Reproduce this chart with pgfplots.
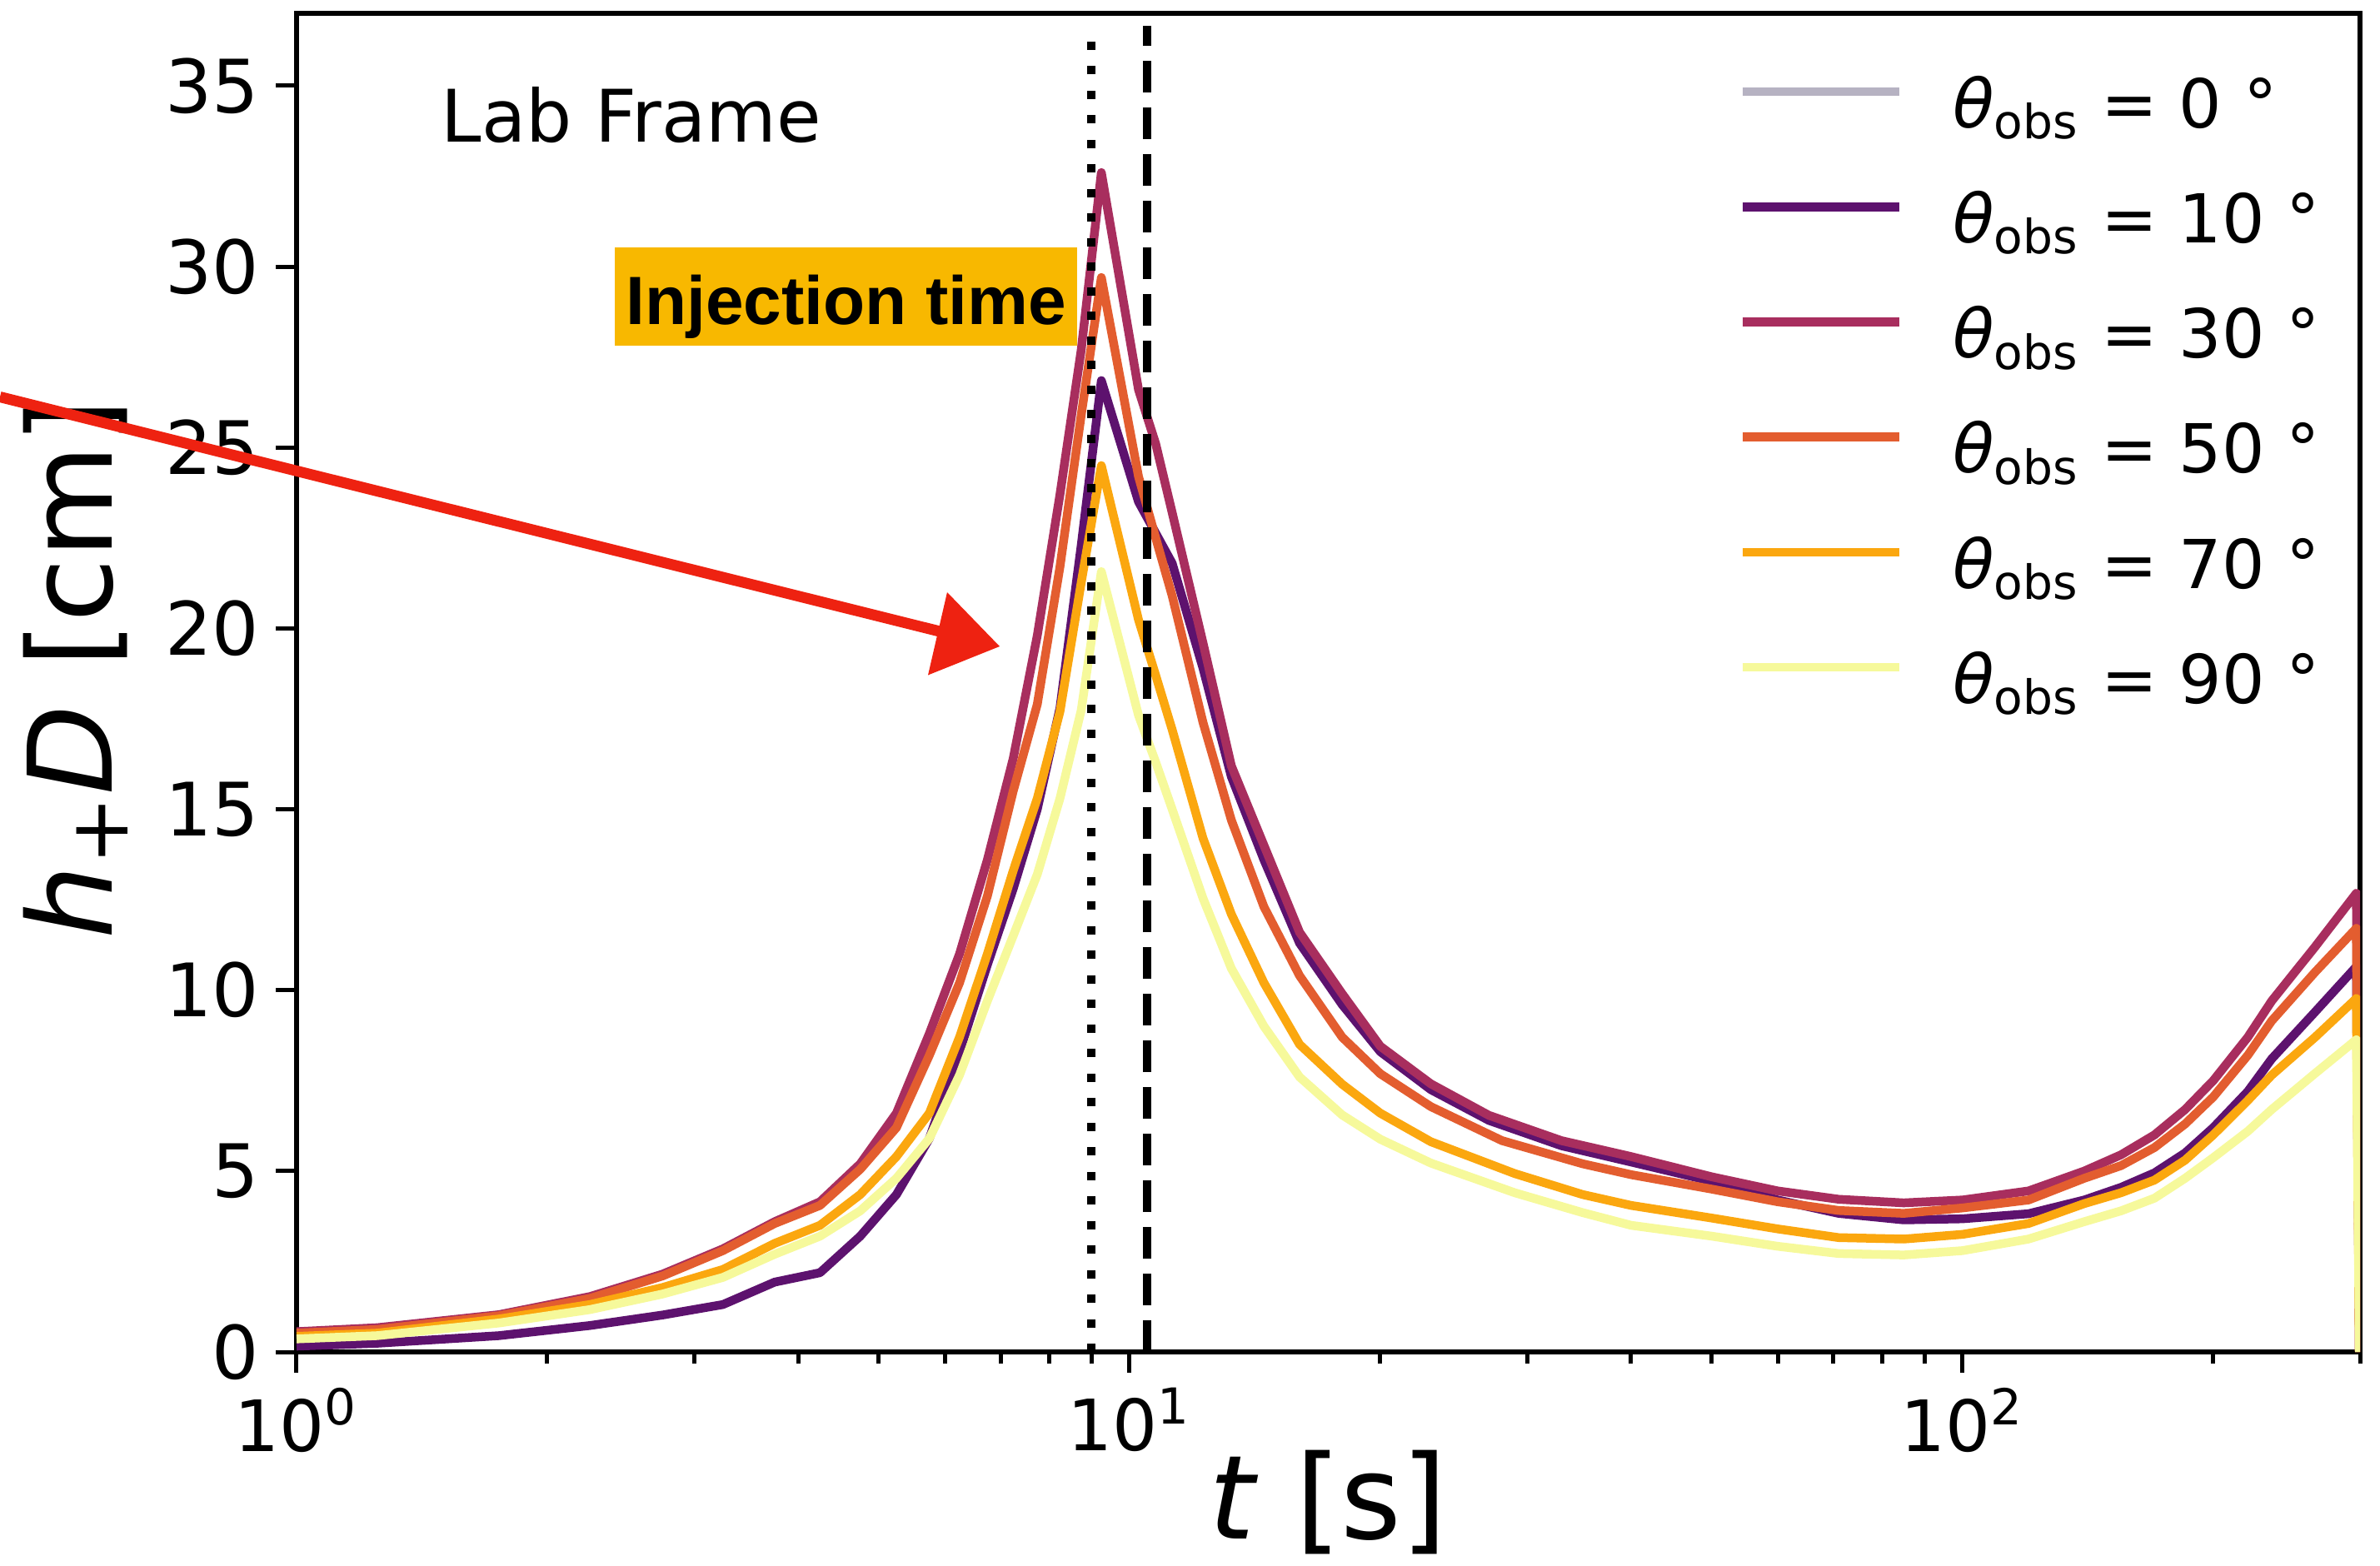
\documentclass[border=0pt]{standalone}
\usepackage{fontspec}
\setmainfont{DejaVu Sans}
\newfontfamily\arialfont{Liberation Sans}
\usepackage{pgfplots}
\pgfplotsset{compat=1.18}

\definecolor{c0}{HTML}{B6B2C2}
\definecolor{c10}{HTML}{5D126E}
\definecolor{c30}{HTML}{A82E5E}
\definecolor{c50}{HTML}{E35D2F}
\definecolor{c70}{HTML}{FBA70F}
\definecolor{c90}{HTML}{F6F99B}
\definecolor{injbox}{HTML}{F8B800}
\definecolor{arrowred}{HTML}{EE2211}

\pgfplotstableread{
t v
1 0.16
1.25 0.24
1.75 0.45
2.25 0.73
2.75 1.02
3.25 1.31
3.75 1.93
4.25 2.19
4.75 3.2
5.25 4.35
5.75 5.9
6.25 8.3
6.75 10.7
7.25 12.8
7.75 15.0
8.25 17.8
8.75 22.3
9.25 26.85
10.25 23.5
11.25 21.8
12.25 18.9
13.25 15.9
14.5 13.6
16 11.3
18 9.6
20 8.3
23 7.25
27 6.4
33 5.7
40 5.25
50 4.72
60 4.2
71 3.83
85 3.65
100 3.68
120 3.82
140 4.2
155 4.55
170 4.95
185 5.5
200 6.2
220 7.2
235 8.1
265 9.4
297 10.65
299.5 0
}\tTen

\pgfplotstableread{
t v
1 0.56
1.25 0.67
1.75 1.03
2.25 1.53
2.75 2.15
3.25 2.85
3.75 3.6
4.25 4.15
4.75 5.2
5.25 6.6
5.75 8.8
6.25 11.0
6.75 13.6
7.25 16.4
7.75 19.8
8.25 23.7
8.75 27.7
9.25 32.6
10.25 26.6
10.75 25.1
11.25 23.2
12.25 19.6
13.25 16.2
14.5 14.0
16 11.6
18 9.9
20 8.45
23 7.41
27 6.54
33 5.84
40 5.4
50 4.84
60 4.45
71 4.22
85 4.12
100 4.2
120 4.45
140 5.0
155 5.45
170 6.0
185 6.7
200 7.5
220 8.7
235 9.7
265 11.2
297 12.68
299.5 0
}\tThirty

\pgfplotstableread{
t v
1 0.52
1.25 0.62
1.75 1.0
2.25 1.48
2.75 2.1
3.25 2.8
3.75 3.55
4.25 4.05
4.75 5.05
5.25 6.2
5.75 8.2
6.25 10.2
6.75 12.6
7.25 15.5
7.75 17.9
8.25 21.7
8.75 25.9
9.25 29.7
10.25 24.2
10.75 22.5
11.25 20.9
12.25 17.4
13.25 14.7
14.5 12.3
16 10.4
18 8.7
20 7.69
23 6.78
28 5.84
35 5.2
40 4.9
50 4.5
60 4.15
71 3.91
85 3.83
100 3.98
120 4.2
140 4.8
155 5.15
170 5.65
185 6.3
200 7.05
220 8.2
235 9.15
265 10.5
297 11.71
299.5 0
}\tFifty

\pgfplotstableread{
t v
1 0.43
1.25 0.52
1.75 0.91
2.25 1.31
2.75 1.78
3.25 2.28
3.75 3.0
4.25 3.5
4.75 4.35
5.25 5.4
5.75 6.6
6.25 8.7
6.75 11.0
7.25 13.3
7.75 15.3
8.25 17.7
8.75 21.27
9.25 24.5
10.25 20.24
10.75 18.7
11.25 17.2
12.25 14.2
13.25 12.1
14.5 10.2
16 8.5
18 7.4
20 6.6
23 5.81
29 4.93
35 4.35
40 4.05
50 3.7
60 3.4
71 3.16
85 3.12
100 3.25
120 3.55
140 4.1
155 4.4
170 4.75
185 5.3
200 6.0
220 6.95
235 7.65
265 8.7
297 9.77
299.5 0
}\tSeventy

\pgfplotstableread{
t v
1 0.36
1.25 0.45
1.75 0.80
2.25 1.17
2.75 1.6
3.25 2.06
3.75 2.7
4.25 3.2
4.75 3.9
5.25 4.8
5.75 5.9
6.25 7.65
6.75 9.7
7.25 11.5
7.75 13.2
8.25 15.3
8.75 17.74
9.25 21.57
10.25 17.6
10.75 16.3
11.25 15.0
12.25 12.54
13.25 10.6
14.5 9.0
16 7.6
18 6.55
20 5.88
23 5.22
29 4.4
35 3.85
40 3.5
50 3.2
60 2.92
71 2.72
85 2.68
100 2.8
120 3.12
140 3.6
155 3.9
170 4.25
185 4.8
200 5.37
220 6.1
235 6.7
265 7.7
297 8.63
299.5 0
}\tNinety

\begin{document}
\begin{tikzpicture}
\begin{axis}[
  at={(0pt,0pt)}, anchor=south west,
  scale only axis, width=495.4pt, height=321.4pt,
  xmode=log, xmin=1, xmax=300, ymin=0, ymax=37,
  xtick={1,10,100},
  xticklabels={10\textsuperscript{0},10\textsuperscript{1},10\textsuperscript{2}},
  minor xtick={2,3,4,5,6,7,8,9,20,30,40,50,60,70,80,90,200,300},
  ytick={0,5,10,15,20,25,30,35},
  tick pos=left, tick align=outside,
  major tick length=5pt, minor tick length=2.8pt,
  every tick/.style={black, line width=1pt},
  axis line style={line width=1.2pt},
  /pgf/number format/assume math mode=true,
  yticklabel style={font=\fontsize{17.7}{20}\selectfont, inner sep=0pt, xshift=-3.8pt},
  xticklabel style={font=\fontsize{17}{20}\selectfont, inner sep=0pt, yshift=-3.5pt},
  xlabel={\textit{t} [s]},
  ylabel={\textit{h}\textsubscript{+}\textit{D} [cm]},
  xlabel style={font=\fontsize{28}{32}\selectfont, at={(axis description cs:0.5,-0.1126)}, anchor=center},
  ylabel style={font=\fontsize{28}{32}\selectfont, at={(axis description cs:-0.107,0.51)}, anchor=center},
  legend style={at={(axis description cs:0.6984,0.96)}, anchor=north west, draw=none, fill=none,
    inner sep=0pt, font=\fontsize{16.2}{19}\selectfont, row sep=9.7pt},
  legend cell align=left,
  legend image code/.code={\draw[#1, line width=2.1pt] (0pt,0.32em) -- (37.6pt,0.32em);
    \path (47.4pt,0.32em);},
  every axis plot/.append style={line join=round},
]
\addlegendimage{c0}
\addlegendentry{\textit{θ}\textsubscript{obs} = 0 °}
\addplot[c10, line width=2.1pt] table[x=t,y=v] {\tTen};
\addlegendentry{\textit{θ}\textsubscript{obs} = 10 °}
\addplot[c30, line width=2.1pt] table[x=t,y=v] {\tThirty};
\addlegendentry{\textit{θ}\textsubscript{obs} = 30 °}
\addplot[c50, line width=2.1pt] table[x=t,y=v] {\tFifty};
\addlegendentry{\textit{θ}\textsubscript{obs} = 50 °}
\addplot[c70, line width=2.1pt] table[x=t,y=v] {\tSeventy};
\addlegendentry{\textit{θ}\textsubscript{obs} = 70 °}
\addplot[c90, line width=2.1pt] table[x=t,y=v] {\tNinety};
\addlegendentry{\textit{θ}\textsubscript{obs} = 90 °}

\addplot[black, line width=2pt, dash pattern=on 2pt off 3.9pt, forget plot] coordinates {(9.0,0) (9.0,36.65)};
\addplot[black, line width=2pt, dash pattern=on 7.6pt off 3.6pt, forget plot] coordinates {(10.5,0) (10.5,36.65)};

\node[anchor=base west, inner sep=0pt, font=\fontsize{17.4}{20}\selectfont] at (rel axis cs:0.0698,0.904) {Lab Frame};
\node[fill=injbox, minimum width=111pt, minimum height=23.6pt, inner sep=0pt] (inj) at (rel axis cs:0.2663,0.7884) {};
\node[anchor=base, inner sep=0pt, yshift=-6.6pt, font=\arialfont\bfseries\fontsize{16.4}{19}\selectfont] at (inj.center) {Injection time};
\end{axis}
\draw[arrowred, line width=2.6pt] (-71.2pt,229.3pt) -- (156pt,172.6pt);
\fill[arrowred] (156.2pt,182.4pt) -- (168.8pt,169.4pt) -- (151.6pt,162.5pt) -- cycle;
\pgfresetboundingbox
\useasboundingbox (-71.2pt,-51.2pt) rectangle (500.2pt,324.6pt);
\end{tikzpicture}
\end{document}
